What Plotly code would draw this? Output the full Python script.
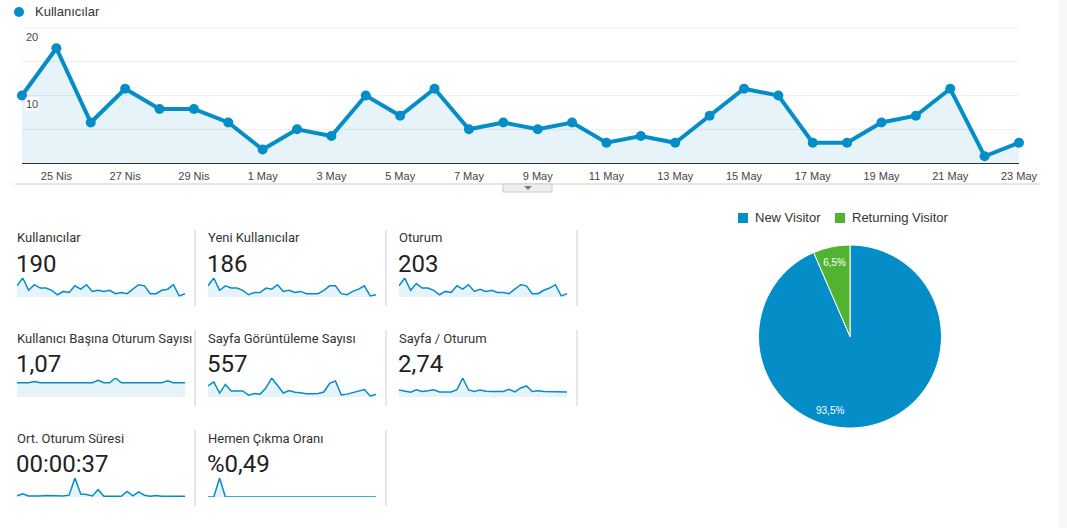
import plotly.graph_objects as go

# daily data, 24 Nis - 23 May
days = ["24 Nis", "25 Nis", "26 Nis", "27 Nis", "28 Nis", "29 Nis", "30 Nis",
        "1 May", "2 May", "3 May", "4 May", "5 May", "6 May", "7 May", "8 May",
        "9 May", "10 May", "11 May", "12 May", "13 May", "14 May", "15 May",
        "16 May", "17 May", "18 May", "19 May", "20 May", "21 May", "22 May", "23 May"]
tick_days = ["25 Nis", "27 Nis", "29 Nis", "1 May", "3 May", "5 May", "7 May", "9 May",
             "11 May", "13 May", "15 May", "17 May", "19 May", "21 May", "23 May"]

users = [10, 17, 6, 11, 8, 8, 6, 2, 5, 4, 10, 7, 11, 5, 6, 5, 6, 3, 4, 3, 7, 11, 10, 3, 3, 6, 7, 11, 1, 3]
new_users = [10, 17, 6, 10, 8, 8, 6, 2, 4, 4, 8, 7, 11, 5, 6, 4, 5, 3, 3, 3, 6, 10, 10, 3, 2, 5, 7, 10, 1, 2]
sessions = [10, 17, 6, 12, 8, 8, 6, 2, 5, 4, 10, 7, 11, 5, 7, 5, 6, 4, 4, 3, 7, 11, 10, 3, 3, 6, 8, 11, 1, 3]
sessions_per_user = [1.0, 1.0, 1.0, 1.09, 1.0, 1.0, 1.0, 1.0, 1.0, 1.0, 1.0, 1.0, 1.0, 1.0, 1.17,
                     1.0, 1.0, 1.33, 1.0, 1.0, 1.0, 1.0, 1.0, 1.0, 1.0, 1.0, 1.14, 1.0, 1.0, 1.0]
pageviews = [31, 42, 11, 35, 17, 17, 17, 5, 10, 8, 25, 53, 33, 11, 18, 13, 12, 9, 9, 10,
             14, 38, 45, 6, 8, 12, 17, 21, 3, 7]
pages_per_session = [2.8, 2.5, 1.9, 2.9, 2.2, 2.5, 2.9, 2.0, 2.0, 2.0, 2.9, 7.57, 2.8, 2.2, 2.8,
                     2.3, 2.2, 2.2, 2.2, 3.1, 2.0, 3.6, 4.4, 2.2, 2.5, 2.2, 2.2, 2.0, 2.0, 2.0]
avg_duration = [30, 90, 30, 20, 30, 40, 30, 40, 30, 50, 520, 80, 70, 30, 200, 20, 20, 20, 20, 150,
                30, 140, 50, 20, 40, 20, 30, 20, 20, 20]
bounce_rate = [0, 0, 16.67, 0, 0, 0, 0, 0, 0, 0, 0, 0, 0, 0, 0, 0, 0, 0, 0, 0,
               0, 0, 0, 0, 0, 0, 0, 0, 0, 0]

card_titles = ["Kullanıcılar", "Yeni Kullanıcılar", "Oturum",
               "Kullanıcı Başına Oturum Sayısı", "Sayfa Görüntüleme Sayısı", "Sayfa / Oturum",
               "Ort. Oturum Süresi", "Hemen Çıkma Oranı"]
card_values = ["190", "186", "203", "1,07", "557", "2,74", "00:00:37", "%0,49"]
card_series = [users, new_users, sessions, sessions_per_user, pageviews,
               pages_per_session, avg_duration, bounce_rate]

visitor_types = ["New Visitor", "Returning Visitor"]
visitor_share = [93.5, 6.5]
visitor_labels = ["93,5%", "6,5%"]

W, H = 1067, 528
BLUE = "#058dc7"
GREEN = "#50b432"
FILL = "rgba(5,141,199,0.1)"
ARIAL = "Liberation Sans, Arial, sans-serif"
ROBOTO = "Roboto, sans-serif"


def fx(px):
    return px / W


def fy(py):
    return 1 - py / H


fig = go.Figure()

# main users chart
fig.add_trace(go.Scatter(
    x=days, y=users, mode="lines+markers",
    line=dict(color=BLUE, width=4), marker=dict(color=BLUE, size=10),
    fill="tozeroy", fillcolor=FILL, cliponaxis=False, hoverinfo="skip",
))

layout = dict(
    # the screenshot squeezes the page width a little, 1086 lands on 1067
    width=1086, height=H, margin=dict(l=0, r=0, t=0, b=0),
    paper_bgcolor="white", plot_bgcolor="white", showlegend=False,
    xaxis=dict(domain=[fx(22), fx(1019)], range=[0, 29], type="category",
               tickmode="array", tickvals=tick_days, ticktext=tick_days,
               showgrid=False, zeroline=False, showline=True, linecolor="#333",
               linewidth=1, ticks="outside", ticklen=3, tickcolor="rgba(0,0,0,0)",
               tickfont=dict(family=ARIAL, size=11, color="#444")),
    yaxis=dict(domain=[fy(163), fy(28)], range=[0, 20], dtick=5,
               showgrid=True, gridcolor="#efefef", zeroline=False,
               showticklabels=False),
)

annotations = [
    dict(x=fx(25), y=fy(37), text="20"),
    dict(x=fx(25), y=fy(104), text="10", bgcolor="white"),
]
for a in annotations:
    a.update(xref="paper", yref="paper", xanchor="left", yanchor="middle",
             showarrow=False, borderpad=0, font=dict(family=ARIAL, size=11, color="#444"))

annotations.append(dict(x=fx(33), y=fy(12), xref="paper", yref="paper",
                        xanchor="left", yanchor="middle", showarrow=False,
                        text="Kullanıcılar", font=dict(family=ARIAL, size=13, color="#333")))

shapes = [
    # legend dot
    dict(type="circle", xref="paper", yref="paper", x0=fx(14), x1=fx(24),
         y0=fy(17), y1=fy(7), fillcolor=BLUE, line=dict(width=0)),
    # top grid line
    dict(type="line", xref="paper", yref="paper", x0=fx(22), x1=fx(1019),
         y0=fy(28), y1=fy(28), line=dict(color="#efefef", width=1), layer="below"),
    # line under the date labels + toggle button
    dict(type="line", xref="paper", yref="paper", x0=fx(15), x1=fx(1040),
         y0=fy(184), y1=fy(184), line=dict(color="#cccccc", width=1)),
    dict(type="rect", xref="paper", yref="paper", x0=fx(503), x1=fx(552),
         y0=fy(192), y1=fy(184), fillcolor="#eeeeee", line=dict(color="#cccccc", width=1)),
    dict(type="path", xref="paper", yref="paper",
         path=f"M {fx(524)} {fy(186)} L {fx(532)} {fy(186)} L {fx(528)} {fy(190)} Z",
         fillcolor="#777777", line=dict(width=0)),
    # grey strip on the right edge
    dict(type="rect", xref="paper", yref="paper", x0=fx(1059), x1=1,
         y0=0, y1=1, fillcolor="#f7f7f7", line=dict(width=0), layer="below"),
]

# metric cards with sparklines
col_x = [15, 206, 397]
row_y = [238, 338, 438]
for i, (title, value, series) in enumerate(zip(card_titles, card_values, card_series)):
    r, c = divmod(i, 3)
    x0 = col_x[c]
    ty = row_y[r]
    annotations.append(dict(x=fx(x0), y=fy(ty), xref="paper", yref="paper",
                            xanchor="left", yanchor="middle", showarrow=False,
                            text=title, font=dict(family=ROBOTO, size=13, color="#333")))
    annotations.append(dict(x=fx(x0 - 1), y=fy(ty + 26), xref="paper", yref="paper",
                            xanchor="left", yanchor="middle", showarrow=False,
                            text=value, font=dict(family=ROBOTO, size=24, color="#222")))
    n = i + 2
    fig.add_trace(go.Scatter(
        x=list(range(len(series))), y=series, mode="lines",
        line=dict(color=BLUE, width=1.5), fill="tozeroy", fillcolor=FILL,
        xaxis=f"x{n}", yaxis=f"y{n}", cliponaxis=False, hoverinfo="skip",
    ))
    layout[f"xaxis{n}"] = dict(domain=[fx(x0 + 2), fx(x0 + 170)], range=[0, 29],
                               visible=False, anchor=f"y{n}")
    layout[f"yaxis{n}"] = dict(domain=[fy(ty + 59), fy(ty + 40)],
                               range=[0, max(series)], visible=False, anchor=f"x{n}")
    # separator on the right of each card
    shapes.append(dict(type="line", xref="paper", yref="paper",
                       x0=fx(x0 + 180), x1=fx(x0 + 180), y0=fy(ty - 8), y1=fy(ty + 68),
                       line=dict(color="#cccccc", width=1)))

# visitor type pie; the big slice's label sits low in the slice, as GA draws it
fig.add_trace(go.Pie(
    labels=visitor_types, values=visitor_share, text=["", visitor_labels[1]],
    textinfo="text", textposition="inside", insidetextorientation="horizontal",
    marker=dict(colors=[BLUE, GREEN], line=dict(color="white", width=1)),
    sort=False, direction="clockwise", rotation=0,
    textfont=dict(family=ARIAL, size=10, color="white"),
    domain=dict(x=[fx(758), fx(942)], y=[fy(428), fy(245)]),
    hoverinfo="skip",
))
annotations.append(dict(x=fx(830), y=fy(410), xref="paper", yref="paper",
                        xanchor="center", yanchor="middle", showarrow=False,
                        text=visitor_labels[0], font=dict(family=ARIAL, size=10, color="white")))

for label, color, sx in zip(visitor_types, [BLUE, GREEN], [738, 835]):
    shapes.append(dict(type="rect", xref="paper", yref="paper", x0=fx(sx), x1=fx(sx + 10),
                       y0=fy(223), y1=fy(213), fillcolor=color, line=dict(width=0)))
    annotations.append(dict(x=fx(sx + 15), y=fy(218), xref="paper", yref="paper",
                            xanchor="left", yanchor="middle", showarrow=False,
                            text=label, font=dict(family=ARIAL, size=13, color="#333")))

layout["annotations"] = annotations
layout["shapes"] = shapes
fig.update_layout(**layout)

fig.write_html("out.html", config={"displayModeBar": False},
               post_script="document.body.style.margin='0';document.body.style.overflow='hidden';")
